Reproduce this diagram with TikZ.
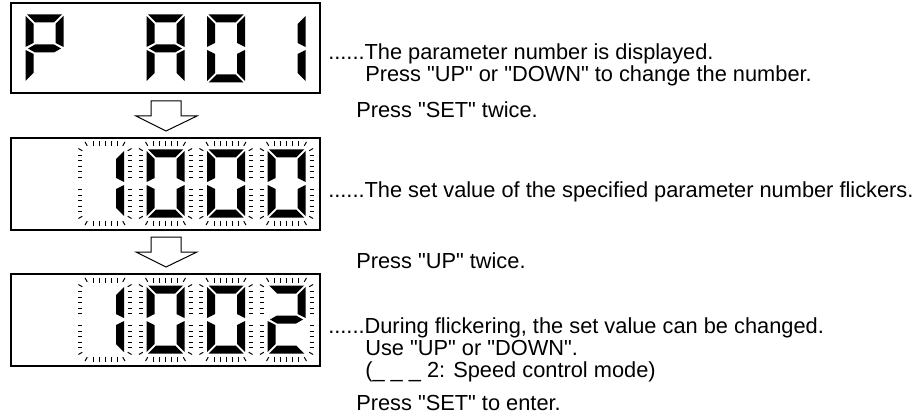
\documentclass[tikz,border=0pt]{standalone}
\usepackage{fontspec}
\setmainfont{Liberation Sans}
\newcommand\dq{\XeTeXglyph\XeTeXcharglyph"0022\relax}
\newcommand\sgA{\fill (1.5,0) -- (36.5,0) -- (28.5,8) -- (9.5,8) -- cycle;}
\newcommand\sgB{\fill (38,1.5) -- (38,32.5) -- (30,28.5) -- (30,9.5) -- cycle;}
\newcommand\sgC{\fill (38,35.5) -- (38,66.5) -- (30,58.5) -- (30,39.5) -- cycle;}
\newcommand\sgD{\fill (9.5,60) -- (28.5,60) -- (36.5,68) -- (1.5,68) -- cycle;}
\newcommand\sgE{\fill (0,35.5) -- (8,39.5) -- (8,58.5) -- (0,66.5) -- cycle;}
\newcommand\sgF{\fill (0,1.5) -- (8,9.5) -- (8,28.5) -- (0,32.5) -- cycle;}
\newcommand\sgG{\fill (2.5,34) -- (9.5,30) -- (28.5,30) -- (35.5,34) -- (28.5,38) -- (9.5,38) -- cycle;}
\newcommand\flick{%
  \foreach \u in {7,13,19,25,31}{\draw[tk] (\u,-3) -- (\u,-8); \draw[tk] (\u,71) -- (\u,76);}
  \foreach \v in {6,11.5,17,22.5,28,40,45.5,51,56.5,62}{\draw[tk] (-4,\v) -- (-8,\v); \draw[tk] (42,\v) -- (46,\v);}
  \foreach \a in {210,240}{\draw[tk] ([shift={(\a:13.5)}]8,8) -- ([shift={(\a:18)}]8,8);}
  \foreach \a in {300,330}{\draw[tk] ([shift={(\a:13.5)}]30,8) -- ([shift={(\a:18)}]30,8);}
  \foreach \a in {120,150}{\draw[tk] ([shift={(\a:13.5)}]8,60) -- ([shift={(\a:18)}]8,60);}
  \foreach \a in {30,60}{\draw[tk] ([shift={(\a:13.5)}]30,60) -- ([shift={(\a:18)}]30,60);}
}
\newcommand\dig[2]{\begin{scope}[shift={(#1)}]#2\end{scope}}
\begin{document}
\begin{tikzpicture}[x=0.75pt,y=-0.75pt,
  tk/.style={line width=0.75pt},
  boxline/.style={line width=1.1pt},
  blockarrow/.style={line width=0.75pt, fill=white, line join=miter},
  txt/.style={inner sep=0pt, anchor=base west, font=\fontsize{16.35}{16}\selectfont}]
\useasboundingbox (0,0) rectangle (924,417);
% boxes
\draw[boxline] (11,3) rectangle (320,93);
\draw[boxline] (11,138) rectangle (320,230);
\draw[boxline] (11,274) rectangle (320,366);
% block arrows
\draw[blockarrow] (151,101) -- (181,101) -- (181,116) -- (197,116) -- (166,131) -- (136,116) -- (151,116) -- cycle;
\draw[blockarrow] (151,237) -- (181,237) -- (181,252) -- (197,252) -- (166,267) -- (136,252) -- (151,252) -- cycle;
% box 1: P  A01
\dig{25.5,14.5}{\sgA\sgB\sgE\sgF\sgG}
\dig{146.5,14.5}{\sgA\sgB\sgC\sgE\sgF\sgG}
\dig{207,14.5}{\sgA\sgB\sgC\sgD\sgE\sgF}
\dig{267.5,14.5}{\sgB\sgC}
% box 2: 1000 flickering
\dig{86,149.5}{\sgB\sgC\flick}
\dig{146.5,149.5}{\sgA\sgB\sgC\sgD\sgE\sgF\flick}
\dig{207,149.5}{\sgA\sgB\sgC\sgD\sgE\sgF\flick}
\dig{267.5,149.5}{\sgA\sgB\sgC\sgD\sgE\sgF\flick}
% box 3: 1002 flickering
\dig{86,285.5}{\sgB\sgC\flick}
\dig{146.5,285.5}{\sgA\sgB\sgC\sgD\sgE\sgF\flick}
\dig{207,285.5}{\sgA\sgB\sgC\sgD\sgE\sgF\flick}
\dig{267.5,285.5}{\sgA\sgB\sgD\sgE\sgG\flick}
% texts
\node[txt] (t1) at (328,60) {......The parameter number is displayed.};
\node[txt] (t1b) at (365,82) {Press \dq UP\dq{} or \dq DOWN\dq{} to change the number.};
\node[txt] (t2) at (356,118) {Press \dq SET\dq{} twice.};
\node[txt] (t3) at (328,198) {......The set value of the specified parameter number flickers.};
\node[txt] (t4) at (356,268) {Press \dq UP\dq{} twice.};
\node[txt] (t5) at (328,333) {......During flickering, the set value can be changed.};
\node[txt] (t5b) at (365,355) {Use \dq UP\dq{} or \dq DOWN\dq.};
\node[txt] (t5c) at (365,377) {(\_ \_ \_ 2: Speed control mode)};
\node[txt] (t6) at (356,410) {Press \dq SET\dq{} to enter.};
\end{tikzpicture}
\end{document}
